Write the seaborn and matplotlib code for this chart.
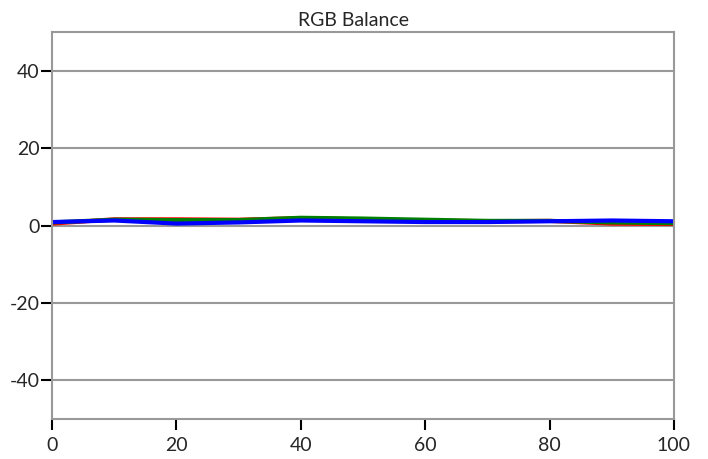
import numpy as np
import pandas as pd
import matplotlib
matplotlib.use("Agg")
import matplotlib.pyplot as plt
import seaborn as sns

x = [0, 10, 20, 30, 40, 50, 60, 70, 80, 90, 100]
red = [0.5, 1.6, 1.6, 1.5, 1.9, 1.6, 1.3, 1.1, 1.2, 0.5, 0.4]
green = [0.8, 1.5, 1.4, 1.4, 2.0, 1.8, 1.5, 1.2, 1.2, 0.8, 0.6]
blue = [0.9, 1.3, 0.5, 0.8, 1.3, 1.1, 0.9, 0.9, 1.1, 1.3, 1.1]

df = pd.DataFrame({"x": x * 3,
                   "value": red + green + blue,
                   "channel": ["R"] * 11 + ["G"] * 11 + ["B"] * 11})

sns.set_style("white")
plt.rcParams["font.family"] = ["Lato", "DejaVu Sans"]
plt.rcParams["axes.unicode_minus"] = False

fig = plt.figure(figsize=(7.08, 4.59), dpi=100)
ax = fig.add_axes([0.0734, 0.0871, 0.8785, 0.8431])
for v in [-40, -20, 0, 20, 40]:
    ax.axhline(v, color="#999999", lw=1.5, zorder=0)
sns.lineplot(data=df, x="x", y="value", hue="channel",
             palette={"R": "#ff0000", "G": "#008000", "B": "#0000ff"},
             linewidth=3, legend=False, ax=ax)
ax.set_xlim(0, 100)
ax.set_ylim(-50, 50)
ax.set_xticks([0, 20, 40, 60, 80, 100])
ax.set_yticks([-40, -20, 0, 20, 40])
ax.set_xlabel("")
ax.set_ylabel("")
fig.text(0.5, 0.955, "RGB Balance", ha="center", va="center", fontsize=14)
for s in ax.spines.values():
    s.set_color("#999999")
    s.set_linewidth(1.5)
ax.tick_params(axis="both", direction="out", length=8, width=1.5,
               color="black", labelsize=14, pad=1,
               bottom=True, left=True)
ax.tick_params(axis="x", pad=5)
fig.savefig("out.png", dpi=100)
